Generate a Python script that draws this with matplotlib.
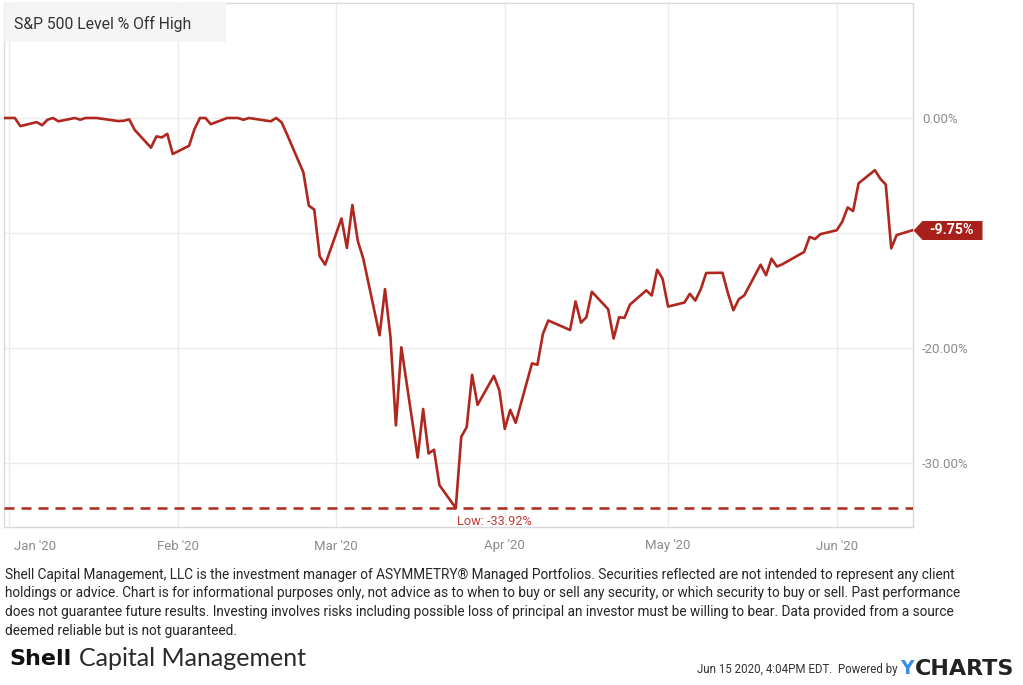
import matplotlib
matplotlib.use("Agg")
import matplotlib.pyplot as plt
import pandas as pd
from matplotlib.path import Path
from matplotlib.patches import Rectangle

# ---------------- data ----------------
dates = (
    ["2019-12-31"]
    + ["2020-01-%02d" % d for d in [2, 3, 6, 7, 8, 9, 10, 13, 14, 15, 16, 17, 21, 22, 23, 24, 27, 28, 29, 30, 31]]
    + ["2020-02-%02d" % d for d in [3, 4, 5, 6, 7, 10, 11, 12, 13, 14, 18, 19, 20, 21, 24, 25, 26, 27, 28]]
    + ["2020-03-%02d" % d for d in [2, 3, 4, 5, 6, 9, 10, 11, 12, 13, 16, 17, 18, 19, 20, 23, 24, 25, 26, 27, 30, 31]]
    + ["2020-04-%02d" % d for d in [1, 2, 3, 6, 7, 8, 9, 13, 14, 15, 16, 17, 20, 21, 22, 23, 24, 27, 28, 29, 30]]
    + ["2020-05-%02d" % d for d in [1, 4, 5, 6, 7, 8, 11, 12, 13, 14, 15, 18, 19, 20, 21, 22, 26, 27, 28, 29]]
    + ["2020-06-%02d" % d for d in [1, 2, 3, 4, 5, 8, 9, 10, 11, 12, 15]]
)

pct_dec = [0.00]
pct_jan = [0.00, -0.71, -0.36, -0.63, -0.15, 0.00, -0.29, 0.00, -0.15, 0.00, 0.00, 0.00,
           -0.27, -0.24, -0.12, -1.03, -2.58, -1.60, -1.69, -1.38, -3.13]
pct_feb = [-2.42, -0.96, 0.00, 0.00, -0.54, 0.00, 0.00, 0.00, -0.16, 0.00, -0.29, 0.00,
           -0.38, -1.43, -4.73, -7.62, -7.97, -12.03, -12.76]
pct_mar = [-8.74, -11.30, -7.56, -10.70, -12.22, -18.89, -14.88, -19.04, -26.74, -19.94,
           -29.53, -25.31, -29.18, -28.85, -31.93, -33.92, -27.73, -26.89, -22.33, -24.95,
           -22.43, -23.67]
pct_apr = [-27.04, -25.38, -26.51, -21.34, -21.46, -18.79, -17.61, -18.44, -15.95, -17.80,
           -17.32, -15.11, -16.63, -19.18, -17.33, -17.38, -16.23, -14.99, -15.44, -13.19,
           -13.99]
pct_may = [-16.40, -16.05, -15.29, -15.88, -14.91, -13.48, -13.46, -15.24, -16.72, -15.76,
           -15.43, -12.76, -13.68, -12.24, -12.92, -12.72, -11.65, -10.34, -10.53, -10.10]
pct_jun = [-9.76, -9.02, -7.78, -8.09, -5.68, -4.54, -5.29, -5.79, -11.34, -10.18, -9.75]
pct = pct_dec + pct_jan + pct_feb + pct_mar + pct_apr + pct_may + pct_jun

low_value = -33.92
low_date = "2020-03-23"

month_starts = ["2020-01-01", "2020-02-01", "2020-03-01", "2020-04-01", "2020-05-01", "2020-06-01"]
x_tick_dates = ["2020-01-05 16:00", "2020-02-01 00:00", "2020-03-01 00:00",
                "2020-04-01 00:00", "2020-05-01 00:00", "2020-06-01 00:00"]
x_tick_labels = ["Jan '20", "Feb '20", "Mar '20", "Apr '20", "May '20", "Jun '20"]
y_ticks = [0, -10, -20, -30]
y_tick_labels = ["0.00%", "", "-20.00%", "-30.00%"]

title = "S&P 500 Level % Off High"
disclaimer = [
    "Shell Capital Management, LLC is the investment manager of ASYMMETRY\u00ae Managed Portfolios. Securities reflected are not intended to represent any client",
    "holdings or advice. Chart is for informational purposes only, not advice as to when to buy or sell any security, or which security to buy or sell. Past performance",
    "does not guarantee future results. Investing involves risks including possible loss of principal an investor must be willing to bear. Data provided from a source",
    "deemed reliable but is not guaranteed.",
]
stamp = "Jun 15 2020, 4:04PM EDT.  Powered by"

# ---------------- style ----------------
LINE = "#b0271f"
TAG = "#a8201a"
GRID = "#ebebeb"
SPINE = "#d9d9d9"
TICK = "#8c8c8c"

plt.rcParams["font.family"] = ["Roboto", "DejaVu Sans"]

W, H = 1023, 685
fig = plt.figure(figsize=(W / 100, H / 100), dpi=100)
fig.patch.set_facecolor("white")
ax = fig.add_axes([4 / W, 1 - 527 / H, 909 / W, 524 / H])

x = pd.to_datetime(dates, format="%Y-%m-%d")
ax.plot(x, pct, color=LINE, lw=1.9, zorder=4)

ax.set_xlim(pd.Timestamp("2019-12-31"), pd.Timestamp("2020-06-15"))
ax.set_ylim(-35.57, 10.0)

# grid
ax.set_yticks(y_ticks)
ax.set_yticklabels(y_tick_labels)
ax.grid(axis="y", color=GRID, lw=1, zorder=0)
for m in month_starts:
    ax.axvline(pd.Timestamp(m), color=GRID, lw=1, zorder=0.5)
ax.set_axisbelow(True)

ax.yaxis.tick_right()
ax.tick_params(axis="y", length=0, pad=6.5, labelsize=9.5, labelcolor=TICK)
ax.set_xticks(pd.to_datetime(x_tick_dates, format="%Y-%m-%d %H:%M"))
ax.set_xticklabels(x_tick_labels)
ax.tick_params(axis="x", length=0, pad=9, labelsize=9.5, labelcolor=TICK)

for s in ax.spines.values():
    s.set_color(SPINE)
    s.set_linewidth(1)

# low line
ax.axhline(low_value, color=LINE, lw=1.8, ls=(0, (4.0, 2.8)), zorder=3)
ax.annotate("Low: %.2f%%" % low_value, xy=(pd.Timestamp(low_date), low_value),
            xytext=(1, -9.5), textcoords="offset points", ha="left", va="center",
            fontsize=9.2, color="#c23a33", annotation_clip=False)

# title box
ax.add_patch(Rectangle((0, (527 - 42) / 524), 222 / 909, 39 / 524, transform=ax.transAxes,
                       facecolor="#f4f4f4", edgecolor="none", alpha=0.9, zorder=3, clip_on=False))
ax.text(10 / 909, (527 - 24) / 524, title, transform=ax.transAxes, ha="left", va="center",
        fontsize=11.3, color="#333333", zorder=5)

# last value tag
tag_verts = [(0, 0), (9, 9.5), (69, 9.5), (69, -9.5), (9, -9.5), (0, 0)]
tag_codes = [Path.MOVETO] + [Path.LINETO] * 4 + [Path.CLOSEPOLY]
tag_path = Path(tag_verts, tag_codes)
ms = 2 * 69 * 72 / 100
ax.plot([x[-1]], [pct[-1]], marker=tag_path, ms=ms, mew=0, color=TAG, clip_on=False, zorder=6)
ax.annotate("%.2f%%" % pct[-1], xy=(x[-1], pct[-1]), xytext=(39 * 0.72, 0),
            textcoords="offset points", ha="center", va="center", color="white",
            fontweight="bold", fontsize=10.2, zorder=7, annotation_clip=False)

# footer
for i, line in enumerate(disclaimer):
    fig.text(5 / W, 1 - (575 + i * 18.5) / H, line, ha="left", va="center",
             fontsize=9.8, color="#262626")

fig.text(9 / W, 1 - 659 / H, "Shell", ha="left", va="center", fontsize=16,
         fontweight="bold", family=["DejaVu Sans"], color="#111111")
fig.text(79 / W, 1 - 659 / H, "Capital Management", ha="left", va="center", fontsize=18,
         family=["Lato", "DejaVu Sans"], color="#2a2a2a")

fig.text(898 / W, 1 - 669 / H, stamp, ha="right", va="center", fontsize=8.3, color="#333333")
fig.text(900 / W, 1 - 669 / H, "Y", ha="left", va="center", fontsize=13.5, fontweight="bold",
         family=["DejaVu Sans"], color="#3a8ee6")
fig.text(915 / W, 1 - 669 / H, "CHARTS", ha="left", va="center", fontsize=16,
         fontweight="bold", family=["DejaVu Sans"], color="#222222")

fig.savefig("out.png", dpi=100, facecolor="white")
